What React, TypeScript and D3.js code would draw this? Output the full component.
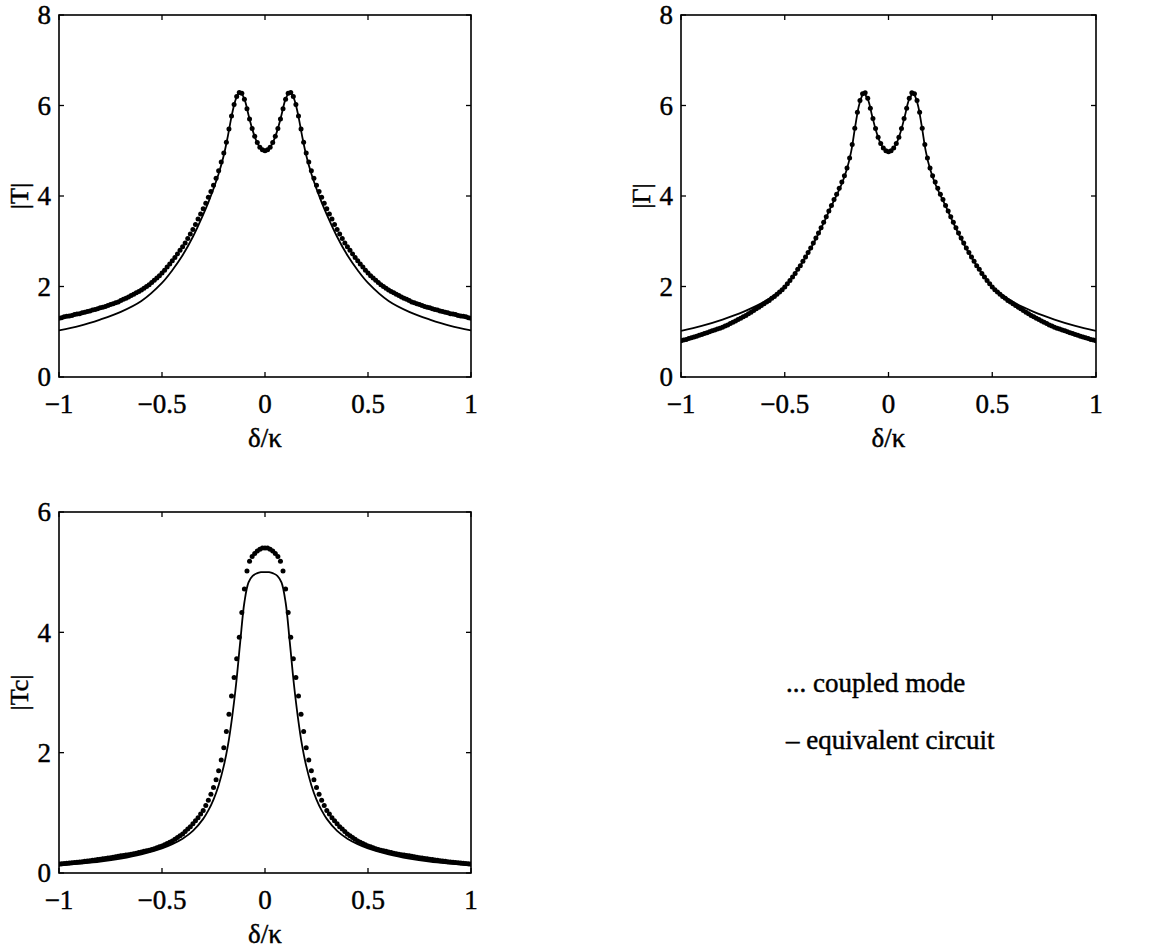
import React from "react";
import * as d3 from "d3";

// sample positions (δ/κ) of the coupled-mode markers and of the circuit curve
const XD: number[] = d3.range(-80, 81).map((i) => i / 80);
const XS: number[] = [
  -1, -0.9, -0.8, -0.7, -0.6, -0.5, -0.45, -0.4, -0.35, -0.3, -0.275, -0.25, -0.225, -0.2, -0.18, -0.16, -0.14,
  -0.12, -0.1, -0.08, -0.06, -0.04, -0.02, 0, 0.02, 0.04, 0.06, 0.08, 0.1, 0.12, 0.14, 0.16, 0.18, 0.2, 0.225,
  0.25, 0.275, 0.3, 0.35, 0.4, 0.45, 0.5, 0.6, 0.7, 0.8, 0.9, 1,
];

// |T| coupled mode (dots)
const T_COUPLED: number[] = [
  1.30, 1.31, 1.33, 1.34, 1.35, 1.36, 1.38, 1.39, 1.40, 1.42, 1.43,
  1.45, 1.46, 1.48, 1.49, 1.51, 1.53, 1.54, 1.56, 1.58, 1.60,
  1.62, 1.64, 1.66, 1.69, 1.72, 1.74, 1.77, 1.80, 1.83, 1.86,
  1.89, 1.92, 1.96, 2.00, 2.04, 2.09, 2.14, 2.19, 2.24, 2.30,
  2.36, 2.43, 2.50, 2.57, 2.64, 2.72, 2.80, 2.88, 2.96, 3.06,
  3.16, 3.26, 3.37, 3.49, 3.60, 3.72, 3.84, 3.97, 4.10, 4.24,
  4.39, 4.56, 4.75, 4.95, 5.19, 5.48, 5.77, 6.02, 6.20, 6.29,
  6.27, 6.14, 5.93, 5.70, 5.49, 5.32, 5.18, 5.08, 5.02,
  5.00,
  5.02, 5.08, 5.18, 5.32, 5.49, 5.70, 5.93, 6.14, 6.27,
  6.29, 6.20, 6.02, 5.77, 5.48, 5.19, 4.95, 4.75, 4.56, 4.39,
  4.24, 4.10, 3.97, 3.84, 3.72, 3.60, 3.49, 3.37, 3.26, 3.16,
  3.06, 2.96, 2.88, 2.80, 2.72, 2.64, 2.57, 2.50, 2.43, 2.36,
  2.30, 2.24, 2.19, 2.14, 2.09, 2.04, 2.00, 1.96, 1.92, 1.89,
  1.86, 1.83, 1.80, 1.77, 1.74, 1.72, 1.69, 1.66, 1.64, 1.62,
  1.60, 1.58, 1.56, 1.54, 1.53, 1.51, 1.49, 1.48, 1.46, 1.45,
  1.43, 1.42, 1.40, 1.39, 1.38, 1.36, 1.35, 1.34, 1.33, 1.31, 1.30,
];
// |T| equivalent circuit (line)
const T_CIRCUIT: number[] = [
  1.03, 1.13, 1.27, 1.44, 1.68, 2.08, 2.36, 2.69, 3.1, 3.59, 3.86, 4.16, 4.49, 4.9, 5.33, 5.81, 6.16, 6.29, 6.14,
  5.79, 5.45, 5.2, 5.05, 5.0, 5.05, 5.2, 5.45, 5.79, 6.14, 6.29, 6.16, 5.81, 5.33, 4.9, 4.49, 4.16, 3.86, 3.59,
  3.1, 2.69, 2.36, 2.08, 1.68, 1.44, 1.27, 1.13, 1.03,
];

// |Γ| coupled mode (dots)
const G_COUPLED: number[] = [
  0.80, 0.815, 0.83, 0.85, 0.87, 0.885, 0.90, 0.92, 0.94, 0.96, 0.98,
  1.00, 1.02, 1.04, 1.06, 1.08, 1.10, 1.125, 1.15, 1.18, 1.21,
  1.24, 1.27, 1.30, 1.33, 1.36, 1.40, 1.43, 1.47, 1.51, 1.54,
  1.58, 1.62, 1.66, 1.69, 1.74, 1.78, 1.83, 1.88, 1.93, 1.99,
  2.06, 2.13, 2.21, 2.29, 2.38, 2.46, 2.56, 2.65, 2.75, 2.85,
  2.96, 3.07, 3.18, 3.30, 3.42, 3.54, 3.67, 3.79, 3.92, 4.04,
  4.17, 4.31, 4.45, 4.62, 4.84, 5.14, 5.50, 5.85, 6.11, 6.26,
  6.28, 6.16, 5.94, 5.71, 5.49, 5.30, 5.16, 5.06, 5.00,
  4.98,
  5.00, 5.06, 5.16, 5.30, 5.49, 5.71, 5.94, 6.16, 6.28,
  6.26, 6.11, 5.85, 5.50, 5.14, 4.84, 4.62, 4.45, 4.31, 4.17,
  4.04, 3.92, 3.79, 3.67, 3.54, 3.42, 3.30, 3.18, 3.07, 2.96,
  2.85, 2.75, 2.65, 2.56, 2.46, 2.38, 2.29, 2.21, 2.13, 2.06,
  1.99, 1.93, 1.88, 1.83, 1.78, 1.74, 1.69, 1.66, 1.62, 1.58,
  1.54, 1.51, 1.47, 1.43, 1.40, 1.36, 1.33, 1.30, 1.27, 1.24,
  1.21, 1.18, 1.15, 1.125, 1.10, 1.08, 1.06, 1.04, 1.02, 1.00,
  0.98, 0.96, 0.94, 0.92, 0.90, 0.885, 0.87, 0.85, 0.83, 0.815, 0.80,
];
// |Γ| equivalent circuit (line)
const G_CIRCUIT: number[] = [
  1.02, 1.13, 1.27, 1.44, 1.66, 1.99, 2.29, 2.64, 3.05, 3.53, 3.78, 4.02, 4.27, 4.6, 4.98, 5.55, 6.04, 6.26, 6.14,
  5.79, 5.44, 5.18, 5.03, 4.98, 5.03, 5.18, 5.44, 5.79, 6.14, 6.26, 6.04, 5.55, 4.98, 4.6, 4.27, 4.02, 3.78, 3.53,
  3.05, 2.64, 2.29, 1.99, 1.66, 1.44, 1.27, 1.13, 1.02,
];

// |Tc| coupled mode (dots)
const TC_COUPLED: number[] = [
  0.15, 0.154, 0.158, 0.162, 0.166, 0.17, 0.174, 0.179, 0.184, 0.189, 0.194,
  0.199, 0.205, 0.211, 0.217, 0.223, 0.229, 0.235, 0.241, 0.248, 0.255,
  0.263, 0.27, 0.278, 0.285, 0.29, 0.3, 0.305, 0.31, 0.32, 0.33,
  0.34, 0.35, 0.36, 0.37, 0.38, 0.39, 0.405, 0.42, 0.435, 0.45,
  0.47, 0.49, 0.51, 0.53, 0.56, 0.59, 0.62, 0.65, 0.69, 0.73,
  0.77, 0.82, 0.87, 0.92, 0.98, 1.04, 1.12, 1.21, 1.31, 1.42,
  1.55, 1.7, 1.88, 2.08, 2.35, 2.64, 2.94, 3.25, 3.56, 3.92,
  4.33, 4.72, 5.02, 5.18, 5.26, 5.31, 5.35, 5.38, 5.4,
  5.4,
  5.4, 5.38, 5.35, 5.31, 5.26, 5.18, 5.02, 4.72, 4.33,
  3.92, 3.56, 3.25, 2.94, 2.64, 2.35, 2.08, 1.88, 1.7, 1.55,
  1.42, 1.31, 1.21, 1.12, 1.04, 0.98, 0.92, 0.87, 0.82, 0.77,
  0.73, 0.69, 0.65, 0.62, 0.59, 0.56, 0.53, 0.51, 0.49, 0.47,
  0.45, 0.435, 0.42, 0.405, 0.39, 0.38, 0.37, 0.36, 0.35, 0.34,
  0.33, 0.32, 0.31, 0.305, 0.3, 0.29, 0.285, 0.278, 0.27, 0.263,
  0.255, 0.248, 0.241, 0.235, 0.229, 0.223, 0.217, 0.211, 0.205, 0.199,
  0.194, 0.189, 0.184, 0.179, 0.174, 0.17, 0.166, 0.162, 0.158, 0.154, 0.15,
];
// |Tc| equivalent circuit (line)
const TC_CIRCUIT: number[] = [
  0.125, 0.155, 0.19, 0.24, 0.31, 0.41, 0.48, 0.57, 0.7, 0.9, 1.04, 1.22, 1.46, 1.78, 2.12, 2.58, 3.15, 3.85, 4.5,
  4.83, 4.94, 4.98, 5.0, 5.0, 5.0, 4.98, 4.94, 4.83, 4.5, 3.85, 3.15, 2.58, 2.12, 1.78, 1.46, 1.22, 1.04, 0.9, 0.7,
  0.57, 0.48, 0.41, 0.31, 0.24, 0.19, 0.155, 0.125,
];

const X_TICKS = [-1, -0.5, 0, 0.5, 1];
const Y_TICKS_T = [0, 2, 4, 6, 8];
const Y_TICKS_TC = [0, 2, 4, 6];

const LEGEND = ["... coupled mode", "\u2013 equivalent circuit"];

const FONT = "'Liberation Serif', 'Times New Roman', serif";
const fmt = d3.format("~g");

type PanelProps = {
  left: number;
  right: number;
  top: number;
  bottom: number;
  ymax: number;
  yticks: number[];
  ylabel: string;
  dots: number[];
  line: number[];
  id: string;
};

const textStyle = { stroke: "#000", strokeWidth: 0.45 } as const;

function Panel({ left, right, top, bottom, ymax, yticks, ylabel, dots, line, id }: PanelProps) {
  const x = d3.scaleLinear().domain([-1, 1]).range([left, right]);
  const y = d3.scaleLinear().domain([0, ymax]).range([bottom, top]);
  const path = d3
    .line<number>()
    .x((_, i) => x(XS[i]))
    .y((d) => y(d))
    .curve(d3.curveCatmullRom.alpha(0.5))(line) as string;
  const tk = 5;
  return (
    <g>
      <defs>
        <clipPath id={id}>
          <rect x={left} y={top} width={right - left} height={bottom - top} />
        </clipPath>
      </defs>
      <g clipPath={`url(#${id})`}>
        <path d={path} fill="none" stroke="#000" strokeWidth={1.8} />
        {dots.map((d, i) => (
          <circle key={i} cx={x(XD[i])} cy={y(d)} r={2.5} fill="#000" />
        ))}
      </g>
      <rect x={left} y={top} width={right - left} height={bottom - top} fill="none" stroke="#000" strokeWidth={1.6} />
      {X_TICKS.map((t) => (
        <g key={"x" + t}>
          <line x1={x(t)} x2={x(t)} y1={bottom} y2={bottom - tk} stroke="#000" strokeWidth={1.3} />
          <line x1={x(t)} x2={x(t)} y1={top} y2={top + tk} stroke="#000" strokeWidth={1.3} />
          <text x={x(t)} y={bottom + 36} textAnchor="middle" fontSize={27} fontFamily={FONT} style={textStyle}>
            {fmt(t)}
          </text>
        </g>
      ))}
      {yticks.map((t) => (
        <g key={"y" + t}>
          <line x1={left} x2={left + tk} y1={y(t)} y2={y(t)} stroke="#000" strokeWidth={1.3} />
          <line x1={right} x2={right - tk} y1={y(t)} y2={y(t)} stroke="#000" strokeWidth={1.3} />
          <text x={left - 8} y={y(t)} dy="0.35em" textAnchor="end" fontSize={27} fontFamily={FONT} style={textStyle}>
            {fmt(t)}
          </text>
        </g>
      ))}
      <text
        x={(left + right) / 2}
        y={bottom + 70}
        textAnchor="middle"
        fontSize={27}
        fontFamily={FONT}
        style={textStyle}
      >
        δ/κ
      </text>
      <text
        transform={`translate(${left - 31},${(top + bottom) / 2}) rotate(-90)`}
        textAnchor="middle"
        fontSize={26}
        fontFamily={FONT}
        style={textStyle}
      >
        {ylabel}
      </text>
    </g>
  );
}

export default function App() {
  return (
    <svg width={1158} height={948} style={{ position: "absolute", left: 0, top: 0, background: "#fff" }}>
      <rect x={0} y={0} width={1158} height={948} fill="#fff" />
      <Panel
        id="c1"
        left={59}
        right={471}
        top={15}
        bottom={377}
        ymax={8}
        yticks={Y_TICKS_T}
        ylabel="|T|"
        dots={T_COUPLED}
        line={T_CIRCUIT}
      />
      <Panel
        id="c2"
        left={681}
        right={1096}
        top={15}
        bottom={377}
        ymax={8}
        yticks={Y_TICKS_T}
        ylabel="|Γ|"
        dots={G_COUPLED}
        line={G_CIRCUIT}
      />
      <Panel
        id="c3"
        left={59}
        right={471}
        top={512}
        bottom={873}
        ymax={6}
        yticks={Y_TICKS_TC}
        ylabel="|Tc|"
        dots={TC_COUPLED}
        line={TC_CIRCUIT}
      />
      {LEGEND.map((s, i) => (
        <text key={s} x={786} y={692 + i * 57} fontSize={27} fontFamily={FONT} style={textStyle}>
          {s}
        </text>
      ))}
    </svg>
  );
}
